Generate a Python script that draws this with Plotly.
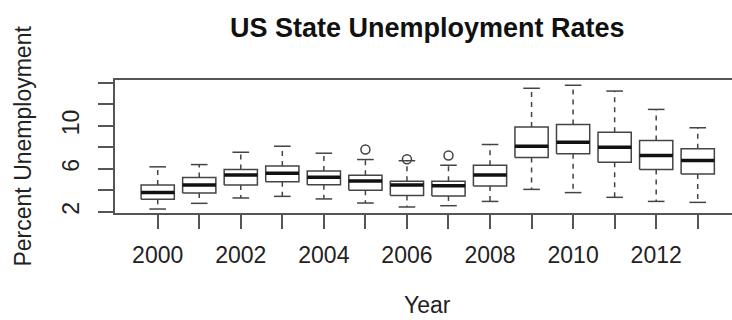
import plotly.graph_objects as go

years = [2000, 2001, 2002, 2003, 2004, 2005, 2006, 2007, 2008, 2009, 2010, 2011, 2012, 2013]
lower = [2.25, 2.78, 3.28, 3.43, 3.19, 2.81, 2.44, 2.56, 2.96, 4.08, 3.78, 3.34, 2.96, 2.87]
q1 = [3.15, 3.75, 4.50, 4.80, 4.52, 3.99, 3.52, 3.47, 4.40, 7.05, 7.39, 6.61, 5.93, 5.52]
median = [3.80, 4.50, 5.43, 5.58, 5.21, 4.87, 4.50, 4.43, 5.43, 8.10, 8.48, 8.01, 7.23, 6.77]
q3 = [4.50, 5.18, 5.93, 6.27, 5.80, 5.39, 4.83, 4.83, 6.33, 9.88, 10.13, 9.41, 8.64, 7.86]
upper = [6.18, 6.39, 7.54, 8.10, 7.45, 6.86, 6.75, 6.33, 8.26, 13.50, 13.78, 13.24, 11.53, 9.82]
outlier_years = [2005, 2006, 2007]
outlier_values = [7.79, 6.88, 7.23]

y_tick_vals = [2, 4, 6, 8, 10, 12, 14]
y_tick_text = ["2", "", "6", "", "10", "", ""]
x_tick_vals = [2000, 2001, 2002, 2003, 2004, 2005, 2006, 2007, 2008, 2009, 2010, 2011, 2012, 2013]
x_tick_text = ["2000", "", "2002", "", "2004", "", "2006", "", "2008", "", "2010", "", "2012", ""]

HALF = 0.4      # half box width (R boxwex 0.8)
STAPLE = 0.2    # half staple width
FONT = "Liberation Sans, Arial, sans-serif"

bx, by, mx, my, wx, wy, sx, sy = [], [], [], [], [], [], [], []
for yr, lo, a, m, b, hi in zip(years, lower, q1, median, q3, upper):
    bx += [yr - HALF, yr + HALF, yr + HALF, yr - HALF, yr - HALF, None]
    by += [a, a, b, b, a, None]
    mx += [yr - HALF, yr + HALF, None]
    my += [m, m, None]
    wx += [yr, yr, None, yr, yr, None]
    wy += [b, hi, None, a, lo, None]
    sx += [yr - STAPLE, yr + STAPLE, None, yr - STAPLE, yr + STAPLE, None]
    sy += [hi, hi, None, lo, lo, None]

fig = go.Figure()
fig.add_trace(go.Scatter(x=wx, y=wy, mode="lines", line=dict(color="#444", width=1.5, dash="5px,5px"),
                         hoverinfo="skip", showlegend=False))
fig.add_trace(go.Scatter(x=sx, y=sy, mode="lines", line=dict(color="#444", width=1.5),
                         hoverinfo="skip", showlegend=False))
fig.add_trace(go.Scatter(x=bx, y=by, mode="lines", line=dict(color="#444", width=1.5),
                         fill="toself", fillcolor="white", hoverinfo="skip", showlegend=False))
fig.add_trace(go.Scatter(x=mx, y=my, mode="lines", line=dict(color="#111", width=3.5),
                         hoverinfo="skip", showlegend=False))
fig.add_trace(go.Scatter(x=outlier_years, y=outlier_values, mode="markers",
                         marker=dict(symbol="circle-open", size=9, color="#444", line=dict(width=1.5)),
                         showlegend=False))

fig.update_layout(
    width=732, height=320,
    margin=dict(l=115, r=0, t=80, b=106.5, pad=0),
    paper_bgcolor="white", plot_bgcolor="white",
    font=dict(family=FONT, size=23, color="#222"),
    xaxis=dict(range=[1998.972, 2013.825], tickvals=x_tick_vals, ticktext=x_tick_text,
               ticks="outside", ticklen=14, tickwidth=1.5, tickcolor="#555",
               showline=True, linecolor="#555", linewidth=1.5, mirror=True,
               showgrid=False, zeroline=False, ticklabelstandoff=7,
               tickfont=dict(size=23, color="#222")),
    yaxis=dict(range=[1.88, 14.27], tickvals=y_tick_vals, ticktext=y_tick_text,
               ticks="outside", ticklen=15, tickwidth=1.5, tickcolor="#555",
               showline=True, linecolor="#555", linewidth=1.5, mirror=False,
               showgrid=False, zeroline=False, tickangle=-90, ticklabelstandoff=10,
               tickfont=dict(size=23, color="#222")),
    annotations=[
        dict(text="<b>US State Unemployment Rates</b>", x=2006.5, xref="x", y=1.39, yref="paper",
             xanchor="center", yanchor="middle", showarrow=False,
             font=dict(family=FONT, size=27, color="#111")),
        dict(text="Year", x=2006.5, xref="x", y=-0.69, yref="paper",
             xanchor="center", yanchor="middle", showarrow=False,
             font=dict(family=FONT, size=23, color="#222")),
        dict(text="Percent Unemployment", x=-0.1507, xref="paper", y=0.5, yref="paper",
             xanchor="center", yanchor="middle", textangle=-90, showarrow=False,
             font=dict(family=FONT, size=23, color="#222")),
    ],
)

fig.write_html("out.html")
